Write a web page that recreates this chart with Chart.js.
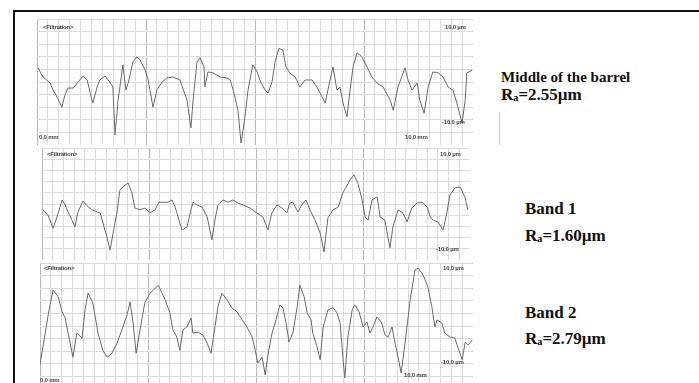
<!DOCTYPE html>
<html>
<head>
<meta charset="utf-8">
<script src="https://cdn.jsdelivr.net/npm/chart.js@4.4.0/dist/chart.umd.min.js"></script>
<style>
  html, body { margin: 0; padding: 0; background: #fff; }
  body { width: 699px; height: 383px; overflow: hidden; position: relative; }
  .frame { position: absolute; left: 13px; top: 10px; width: 720px; height: 420px; border: 2px solid #111; }
  .panel { position: absolute; }
  .tiny { position: absolute; font: bold 6px Arial, "Liberation Sans", sans-serif; color: #444; white-space: nowrap; letter-spacing: -0.2px; }
  .note { position: absolute; font-family: "Liberation Serif", "Times New Roman", serif; font-weight: bold; color: #111; white-space: nowrap; }
  .note sub { font-size: 60%; vertical-align: -1px; }
</style>
</head>
<body>
<div class="frame"></div>

<div class="panel" style="left:37px;top:19px;width:436px;height:126px"><canvas id="middle"></canvas></div>
<div class="panel" style="left:42px;top:148px;width:428px;height:112px"><canvas id="band1"></canvas></div>
<div class="panel" style="left:40px;top:263px;width:433px;height:126px"><canvas id="band2"></canvas></div>

<div class="tiny" style="left:43px;top:24px">&lt;Filtration&gt;</div>
<div class="tiny" style="left:445px;top:24px">10,0 µm</div>
<div class="tiny" style="left:442px;top:119px">-10,0 µm</div>
<div class="tiny" style="left:39px;top:134px">0,0 mm</div>
<div class="tiny" style="left:405px;top:134px">10,0 mm</div>

<div class="tiny" style="left:47px;top:151px">&lt;Filtration&gt;</div>
<div class="tiny" style="left:440px;top:151px">10,0 µm</div>
<div class="tiny" style="left:436px;top:246px">-10,0 µm</div>

<div class="tiny" style="left:44px;top:265px">&lt;Filtration&gt;</div>
<div class="tiny" style="left:443px;top:265px">10,0 µm</div>
<div class="tiny" style="left:441px;top:359px">-10,0 µm</div>
<div class="tiny" style="left:404px;top:372px">10,0 mm</div>
<div class="tiny" style="left:40px;top:377px">0,0 mm</div>

<div class="note" style="left:501px;top:69px;font-size:15px">Middle of the barrel</div>
<div class="note" style="left:501px;top:85px;font-size:17px">R<sub>a</sub>=2.55µm</div>
<div style="position:absolute;left:499px;top:112px;width:0;height:33px;border-left:1px solid #ccc"></div>

<div class="note" style="left:525px;top:199px;font-size:17px">Band 1</div>
<div class="note" style="left:525px;top:226px;font-size:17px">R<sub>a</sub>=1.60µm</div>
<div class="note" style="left:525px;top:303px;font-size:17px">Band 2</div>
<div class="note" style="left:525px;top:329px;font-size:17px">R<sub>a</sub>=2.79µm</div>

<script>
// profile positions (mm) and heights (µm)
const middleX = [0.02,0.14,0.30,0.37,0.46,0.57,0.64,0.71,0.83,0.94,1.06,1.15,1.22,1.28,1.38,1.44,1.56,1.67,1.74,1.79,1.86,1.97,2.04,2.11,2.20,2.29,2.36,2.48,2.55,2.66,2.75,2.87,2.98,3.12,3.28,3.44,3.53,3.58,3.67,3.74,3.83,3.85,3.92,4.04,4.20,4.36,4.43,4.50,4.61,4.68,4.77,4.84,4.95,5.05,5.11,5.23,5.30,5.39,5.46,5.55,5.64,5.71,5.80,5.92,6.03,6.15,6.31,6.42,6.54,6.61,6.72,6.79,6.88,6.95,7.02,7.11,7.18,7.25,7.34,7.45,7.57,7.68,7.80,7.94,8.10,8.17,8.28,8.44,8.51,8.60,8.72,8.78,8.88,8.97,9.08,9.20,9.31,9.43,9.54,9.63,9.75,9.82,9.86,9.98];
const middleY = [2.8,1.0,-0.2,-1.6,-3.0,-5.0,-2.6,-1.2,-1.2,0,1.2,0.4,-2.2,-4.2,-1.0,0.4,1.2,0,-1.0,-10.5,-3.6,3.4,-1.6,0.4,4.0,5.0,4.4,2.4,0.4,-5.0,-1.6,0,0.8,1.0,0.4,-3.6,-9.1,-3.6,4.0,4.8,3.0,-1.0,2.0,1.8,1.0,0.8,0.4,-1.6,-5.6,-12.1,-6.9,-1.6,3.4,2.0,0.4,-1.6,-2.2,0,4.0,6.7,6.3,3.0,1.8,1.0,-1.0,0.4,0.4,-1.0,-3.0,-4.2,0.4,3.0,-1.6,-1.0,-4.2,-6.9,-1.6,3.0,5.8,5.0,3.0,1.0,-0.2,-1.0,-3.6,-5.6,-1.0,2.8,0.4,-1.6,-0.2,-3.6,-6.2,-1.0,2.0,1.8,1.0,-1.0,-1.6,-4.2,-8.1,-3.6,1.8,2.4];

const band1X = [0.02,0.14,0.26,0.35,0.47,0.54,0.61,0.70,0.77,0.84,0.96,1.05,1.17,1.29,1.36,1.47,1.52,1.59,1.66,1.75,1.82,1.94,2.01,2.10,2.17,2.29,2.41,2.52,2.64,2.73,2.83,2.94,3.04,3.11,3.18,3.27,3.39,3.48,3.53,3.62,3.74,3.86,3.97,4.04,4.11,4.23,4.35,4.46,4.58,4.70,4.86,5.02,5.16,5.28,5.37,5.49,5.61,5.72,5.79,5.86,5.98,6.07,6.17,6.26,6.38,6.50,6.59,6.68,6.80,6.92,7.03,7.20,7.29,7.38,7.48,7.55,7.62,7.71,7.83,7.90,8.01,8.13,8.20,8.32,8.43,8.53,8.64,8.76,8.88,9.00,9.07,9.14,9.25,9.37,9.46,9.53,9.65,9.77,9.88,9.95];
const band1Y = [-1.3,-2.5,-5.4,-2.9,0.9,-0.2,-1.8,-3.6,-5.1,-1.8,0.7,-0.4,-1.3,-1.8,-2.0,-5.8,-7.4,-10.3,-6.5,-2.0,3.1,4.2,4.7,2.5,-0.9,-1.3,-0.9,-2.0,-1.3,0.4,0.4,0.4,0.9,-0.7,-2.9,-5.8,-5.1,-1.3,0.4,-0.2,-0.7,-2.9,-8.0,-3.6,-0.2,0.9,0.4,0.9,0.2,-0.2,-0.9,-2.0,-2.9,-5.8,-2.0,-0.2,-0.9,-2.0,0.2,0.4,-1.8,-0.2,0.9,-1.3,-3.6,-6.5,-10.7,-3.1,-1.3,-0.7,2.5,5.4,6.5,4.7,0.9,-2.9,-3.6,0.9,1.6,-2.9,-3.6,-9.8,-5.1,-1.3,-2.0,-4.0,-0.9,0.2,0.4,-0.7,-2.9,-3.6,-4.0,-5.8,-2.0,2.0,3.6,3.8,1.6,-1.3];

const band2X = [0.00,0.12,0.21,0.30,0.42,0.51,0.58,0.65,0.76,0.85,0.97,1.04,1.11,1.22,1.34,1.45,1.55,1.66,1.78,1.89,2.01,2.08,2.15,2.22,2.31,2.42,2.54,2.66,2.73,2.82,2.89,3.00,3.07,3.16,3.23,3.30,3.39,3.49,3.53,3.65,3.76,3.86,3.95,4.04,4.11,4.20,4.32,4.43,4.55,4.67,4.78,4.90,4.97,5.03,5.13,5.20,5.27,5.36,5.43,5.54,5.61,5.70,5.75,5.84,5.94,6.00,6.10,6.17,6.26,6.30,6.40,6.47,6.54,6.65,6.77,6.86,6.93,7.00,7.04,7.11,7.21,7.27,7.37,7.46,7.55,7.62,7.69,7.78,7.88,7.97,8.04,8.13,8.20,8.27,8.34,8.43,8.55,8.66,8.73,8.85,8.96,9.05,9.12,9.17,9.28,9.35,9.47,9.58,9.65,9.75,9.82,9.88,9.98];
const band2Y = [-7.7,-1.4,3.2,7.1,5.8,2.8,1.6,-1.4,-6.2,-1.4,-2.4,3.2,6.5,4.6,-1.4,-4.8,-6.2,-5.4,-3.4,-0.8,2.2,4.8,0.6,-5.4,-0.8,4.6,6.5,7.5,8.1,6.5,5.2,2.6,-0.8,-2.2,-4.8,-0.8,-0.2,1.6,-1.4,-1.2,-1.8,-3.4,-5.4,-0.2,3.8,6.5,5.2,3.6,2.8,1.2,-0.2,-2.2,-4.8,-7.3,-6.2,-9.7,-5.4,-1.4,0.6,4.2,3.6,-0.2,-3.2,-1.4,3.8,8.1,5.8,2.6,1.2,-1.4,-4.2,-6.7,-0.2,3.2,3.6,2.6,0.6,-6.7,-10.3,-2.2,3.2,4.2,2.8,-0.2,0.8,-1.4,-0.2,1.8,0.8,-1.8,-2.2,-0.2,-3.4,-6.2,-9.3,-3.4,5.2,11.1,11.5,10.1,7.7,3.8,-0.2,1.2,0.6,-1.4,-2.2,-2.4,-4.2,-6.7,-3.2,-3.8,-2.8];

const xRange = [0, 10];      // mm
const yRange = [-12.5, 12.5]; // µm

function gridColor(ctx) {
    return ctx.index % 10 === 0 ? '#b8b8b8' : '#dcdcdc';
}

function drawProfile(id, xs, ys) {
    const ctx = document.getElementById(id).getContext('2d');
    return new Chart(ctx, {
        type: 'line',
        data: {
            datasets: [{
                data: xs.map((x, i) => ({ x: x, y: ys[i] })),
                borderColor: '#6a6a6a',
                borderWidth: 1,
                pointRadius: 0,
                tension: 0
            }]
        },
        options: {
            responsive: true,
            maintainAspectRatio: false,
            animation: false,
            layout: { padding: 0 },
            plugins: { legend: { display: false }, tooltip: { enabled: false } },
            scales: {
                x: {
                    type: 'linear', min: xRange[0], max: xRange[1],
                    ticks: { display: false, stepSize: 0.25, autoSkip: false },
                    grid: { color: gridColor, drawTicks: false },
                    border: { display: false }
                },
                y: {
                    min: yRange[0], max: yRange[1],
                    ticks: { display: false, stepSize: 2.5 },
                    grid: { color: '#dcdcdc', drawTicks: false },
                    border: { display: false }
                }
            }
        }
    });
}

document.addEventListener('DOMContentLoaded', () => {
    drawProfile('middle', middleX, middleY);
    drawProfile('band1', band1X, band1Y);
    drawProfile('band2', band2X, band2Y);
});
</script>
</body>
</html>
